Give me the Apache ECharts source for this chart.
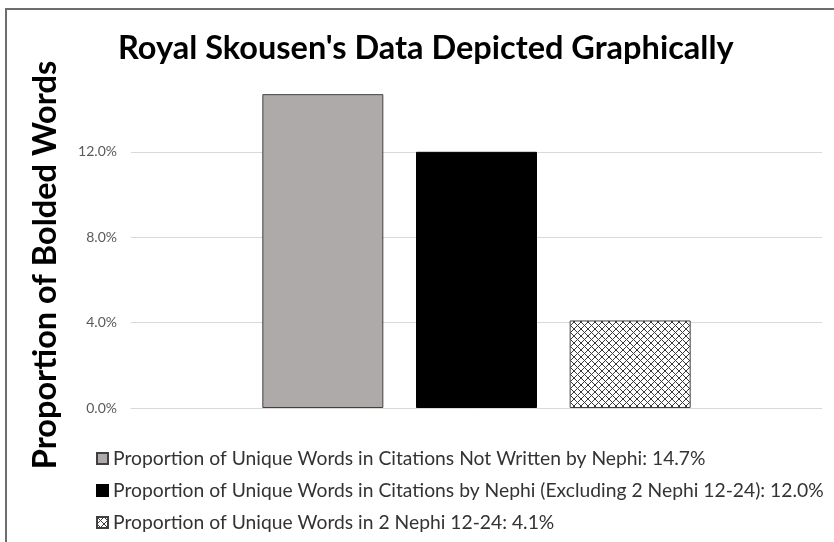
<!DOCTYPE html>
<html>
<head>
<meta charset="utf-8">
<script src="https://cdn.jsdelivr.net/npm/echarts@6/dist/echarts.min.js"></script>
<style>
  html, body { margin: 0; padding: 0; background: #fff; }
  #chart { width: 834px; height: 542px; }
</style>
</head>
<body>
<div id="chart"></div>
<script>
// data
const categories = [''];
const seriesNames = [
  'Proportion of Unique Words in Citations Not Written by Nephi',
  'Proportion of Unique Words in Citations by Nephi (Excluding 2 Nephi 12-24)',
  'Proportion of Unique Words in 2 Nephi 12-24'
];
const seriesValues = [0.147, 0.120, 0.041];
const yTicks = [0, 0.04, 0.08, 0.12, 0.16];

// crosshatch fill for the third bar
const hatch = document.createElement('canvas');
hatch.width = 7;
hatch.height = 7;
const hctx = hatch.getContext('2d');
hctx.fillStyle = '#fff';
hctx.fillRect(0, 0, 7, 7);
hctx.strokeStyle = '#3a3a3a';
hctx.lineWidth = 1;
hctx.beginPath();
hctx.moveTo(0, 0); hctx.lineTo(7, 7);
hctx.moveTo(7, 0); hctx.lineTo(0, 7);
hctx.stroke();

const styles = [
  { color: '#aeaaaa', borderColor: '#404040', borderWidth: 1 },
  { color: '#000000', borderColor: '#000000', borderWidth: 1 },
  { color: { image: hatch, repeat: 'repeat' }, borderColor: '#404040', borderWidth: 1 }
];

const pct = v => (v * 100).toFixed(1) + '%';
const legendNames = seriesNames.map((n, i) => n + ': ' + pct(seriesValues[i]));

const chart = echarts.init(document.getElementById('chart'), null, { renderer: 'canvas' });

chart.setOption({
  animation: false,
  backgroundColor: '#fff',
  title: {
    text: "Royal Skousen's Data Depicted Graphically",
    left: 113,
    top: 27,
    textStyle: { fontFamily: 'Lato', fontWeight: 'bold', fontSize: 32.5, color: '#000' }
  },
  graphic: [
    {
      type: 'rect',
      shape: { x: 6, y: 9, width: 850, height: 560 },
      style: { fill: 'none', stroke: '#6d6d6d', lineWidth: 2 },
      silent: true
    },
    {
      type: 'text',
      x: 46,
      y: 265,
      rotation: Math.PI / 2,
      style: {
        text: 'Proportion of Bolded Words',
        font: 'bold 32.5px Lato',
        fill: '#000',
        align: 'center',
        verticalAlign: 'middle'
      }
    }
  ],
  legend: {
    orient: 'vertical',
    left: 91,
    top: 444,
    icon: 'rect',
    itemWidth: 11,
    itemHeight: 11,
    itemGap: 13,
    textStyle: { fontFamily: 'Lato', fontSize: 19.3, lineHeight: 19, color: '#333' },
    data: legendNames
  },
  grid: { left: 131, right: 12, top: 66.4, bottom: 134, containLabel: false },
  xAxis: {
    type: 'category',
    data: categories,
    axisLine: { lineStyle: { color: '#d9d9d9', width: 1 } },
    axisTick: { show: false },
    axisLabel: { show: false }
  },
  yAxis: {
    type: 'value',
    min: yTicks[0],
    max: yTicks[yTicks.length - 1],
    interval: yTicks[1] - yTicks[0],
    axisLine: { show: false },
    axisTick: { show: false },
    axisLabel: {
      showMaxLabel: false,
      margin: 14,
      fontFamily: 'Lato',
      fontSize: 14,
      color: '#595959',
      formatter: v => pct(v)
    },
    splitLine: { showMaxLine: false, lineStyle: { color: '#d9d9d9', width: 1 } }
  },
  series: seriesValues.map((v, i) => ({
    type: 'bar',
    name: legendNames[i],
    data: [v],
    barWidth: 121,
    barGap: '27%',
    itemStyle: styles[i]
  }))
});
</script>
</body>
</html>
